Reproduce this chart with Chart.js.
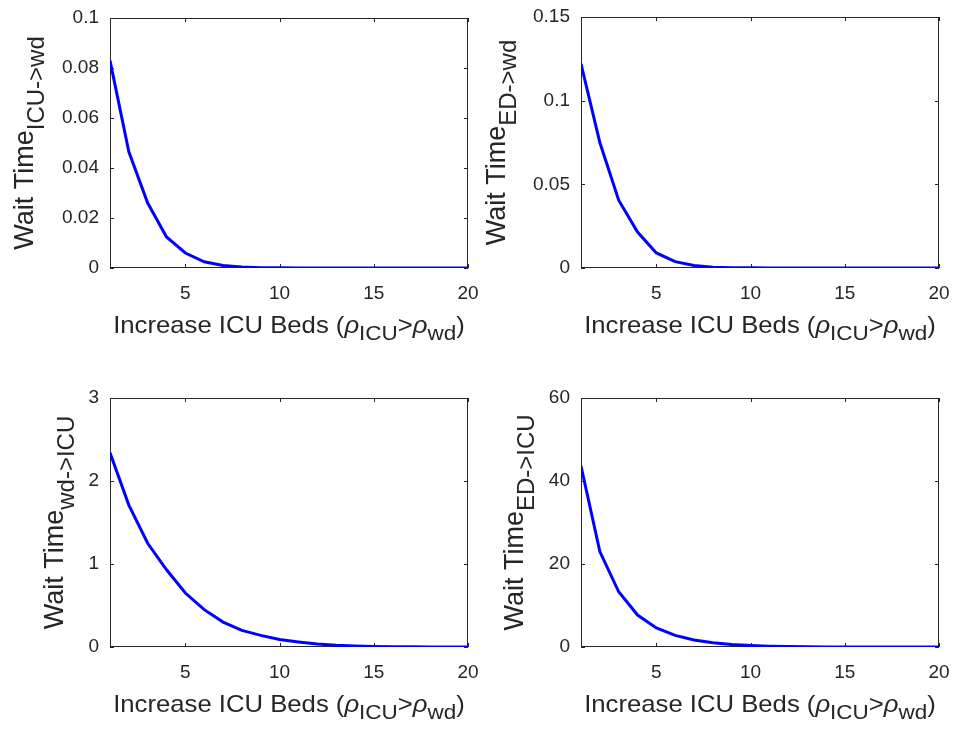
<!DOCTYPE html>
<html lang="en">
<head>
<meta charset="UTF-8" />
<title>Wait Time vs ICU Beds</title>
<script src="https://cdn.jsdelivr.net/npm/chart.js"></script>
<style>
    body { margin: 0; background: #fff; }
    #fig { position: relative; width: 954px; height: 729px; }
    #fig canvas { position: absolute; left: 0; top: 0; }
</style>
</head>
<body>
<div id="fig">
    <canvas id="c1"></canvas>
    <canvas id="c2"></canvas>
    <canvas id="c3"></canvas>
    <canvas id="c4"></canvas>
</div>
<script>
// data
const beds = [1, 2, 3, 4, 5, 6, 7, 8, 9, 10, 11, 12, 13, 14, 15, 16, 17, 18, 19, 20];
const waitIcuWd = [0.083, 0.0465, 0.026, 0.0124, 0.006, 0.0025, 0.001, 0.0004, 0.00015, 0.00006,
    0.00002, 0.00001, 0, 0, 0, 0, 0, 0, 0, 0];
const waitEdWd = [0.122, 0.075, 0.0405, 0.0215, 0.009, 0.0038, 0.0015, 0.0005, 0.0002, 0.00008,
    0.00003, 0.00001, 0, 0, 0, 0, 0, 0, 0, 0];
const waitWdIcu = [2.34, 1.71, 1.25, 0.93, 0.65, 0.45, 0.30, 0.20, 0.14, 0.09,
    0.06, 0.035, 0.02, 0.012, 0.007, 0.004, 0.002, 0.001, 0.0005, 0.0002];
const waitEdIcu = [43.6, 23.0, 13.3, 7.7, 4.6, 2.8, 1.7, 1.0, 0.6, 0.35,
    0.2, 0.1, 0.06, 0.03, 0.015, 0.008, 0.004, 0.002, 0.001, 0.0005];

const xTicks = [5, 10, 15, 20];
const yTicksIcuWd = [0, 0.02, 0.04, 0.06, 0.08, 0.1];
const yTicksEdWd = [0, 0.05, 0.1, 0.15];
const yTicksWdIcu = [0, 1, 2, 3];
const yTicksEdIcu = [0, 20, 40, 60];

const FONT = 'Arial, "Liberation Sans", Helvetica, sans-serif';
const INK = '#262626';
const W = 954, H = 729;
const Y_AXIS_W = 100, X_AXIS_H = 40;

// draw a run of text pieces (main + subscripts) centred on 0,0
function drawRich(ctx, parts) {
    let total = 0;
    parts.forEach(p => {
        ctx.font = (p.italic ? 'italic ' : '') + p.size + 'px ' + FONT;
        p.w = ctx.measureText(p.t).width;
        total += p.w;
    });
    let x = -total / 2;
    parts.forEach(p => {
        ctx.font = (p.italic ? 'italic ' : '') + p.size + 'px ' + FONT;
        ctx.fillText(p.t, x, p.dy || 0);
        x += p.w;
    });
}

const xLabelParts = [
    { t: 'Increase ICU Beds (', size: 24 },
    { t: 'ρ', size: 24, italic: true },
    { t: 'ICU', size: 21, dy: 7 },
    { t: '>', size: 24 },
    { t: 'ρ', size: 24, italic: true },
    { t: 'wd', size: 21, dy: 7 },
    { t: ')', size: 24 }
];

const matlabAxes = {
    id: 'matlabAxes',
    beforeDatasetsDraw(chart, args, opts) {
        const ctx = chart.ctx;
        const a = chart.chartArea;
        const xs = chart.scales.x, ys = chart.scales.y;
        ctx.save();
        ctx.strokeStyle = INK;
        ctx.lineWidth = 1;
        ctx.strokeRect(a.left + 0.5, a.top + 0.5, a.right - a.left - 1, a.bottom - a.top - 1);
        const tl = 4;
        ctx.beginPath();
        xs.ticks.forEach(t => {
            const px = Math.round(xs.getPixelForValue(t.value)) + 0.5;
            ctx.moveTo(px, a.bottom); ctx.lineTo(px, a.bottom - tl);
            ctx.moveTo(px, a.top); ctx.lineTo(px, a.top + tl);
        });
        ys.ticks.forEach(t => {
            const py = Math.round(ys.getPixelForValue(t.value)) + 0.5;
            ctx.moveTo(a.left, py); ctx.lineTo(a.left + tl, py);
            ctx.moveTo(a.right, py); ctx.lineTo(a.right - tl, py);
        });
        ctx.stroke();
        ctx.restore();
    },
    afterDraw(chart, args, opts) {
        const ctx = chart.ctx;
        const a = chart.chartArea;
        ctx.save();
        ctx.fillStyle = INK;
        ctx.textBaseline = 'alphabetic';
        ctx.textAlign = 'left';
        // x label, slightly widened like the MATLAB export
        ctx.save();
        ctx.translate((a.left + a.right) / 2, a.bottom + opts.xLabelGap);
        ctx.scale(1.07, 1);
        drawRich(ctx, xLabelParts);
        ctx.restore();
        // y label
        ctx.save();
        ctx.translate(a.left - opts.yLabelGap, (a.top + a.bottom) / 2);
        ctx.rotate(-Math.PI / 2);
        drawRich(ctx, [
            { t: 'Wait Time', size: 27 },
            { t: opts.sub, size: 24, dy: 11 }
        ]);
        ctx.restore();
        ctx.restore();
    }
};

// every panel gets a full-size transparent canvas; the axes box is placed by padding
function makePanel(id, area, values, yTicks, sub, yLabelGap) {
    const canvas = document.getElementById(id);
    canvas.width = W;
    canvas.height = H;
    const pts = beds.map((b, i) => ({ x: b, y: values[i] }));
    return new Chart(canvas, {
        type: 'line',
        data: {
            datasets: [{
                data: pts,
                borderColor: '#0000ff',
                borderWidth: 3,
                pointRadius: 0,
                tension: 0,
                fill: false
            }]
        },
        options: {
            responsive: false,
            animation: false,
            events: [],
            layout: {
                padding: {
                    left: area.left - Y_AXIS_W,
                    top: area.top,
                    right: W - area.right,
                    bottom: H - area.bottom - X_AXIS_H
                }
            },
            plugins: {
                legend: { display: false },
                tooltip: { enabled: false },
                matlabAxes: { sub: sub, yLabelGap: yLabelGap, xLabelGap: 65 }
            },
            scales: {
                x: {
                    type: 'linear',
                    min: 1,
                    max: 20,
                    afterBuildTicks: s => { s.ticks = xTicks.map(v => ({ value: v })); },
                    afterFit: s => {
                        s.height = X_AXIS_H;
                        s.paddingLeft = 0;
                        s.paddingRight = 0;
                    },
                    grid: { display: false },
                    border: { display: false },
                    ticks: {
                        font: { family: FONT, size: 19 },
                        color: INK,
                        padding: 6,
                        maxRotation: 0,
                        callback: v => String(v)
                    }
                },
                y: {
                    type: 'linear',
                    min: yTicks[0],
                    max: yTicks[yTicks.length - 1],
                    afterBuildTicks: s => { s.ticks = yTicks.map(v => ({ value: v })); },
                    afterFit: s => {
                        s.width = Y_AXIS_W;
                        s.paddingTop = 0;
                        s.paddingBottom = 0;
                    },
                    grid: { display: false },
                    border: { display: false },
                    ticks: {
                        font: { family: FONT, size: 19 },
                        color: INK,
                        padding: 3,
                        callback: v => String(v)
                    }
                }
            }
        },
        plugins: [matlabAxes]
    });
}

makePanel('c1', { left: 110, right: 468, top: 18, bottom: 268 }, waitIcuWd, yTicksIcuWd, 'ICU->wd', 77);
makePanel('c2', { left: 581, right: 939, top: 17, bottom: 268 }, waitEdWd, yTicksEdWd, 'ED->wd', 76);
makePanel('c3', { left: 110, right: 468, top: 398, bottom: 647 }, waitWdIcu, yTicksWdIcu, 'wd->ICU', 47);
makePanel('c4', { left: 581, right: 939, top: 398, bottom: 647 }, waitEdIcu, yTicksEdIcu, 'ED->ICU', 58);
</script>
</body>
</html>
